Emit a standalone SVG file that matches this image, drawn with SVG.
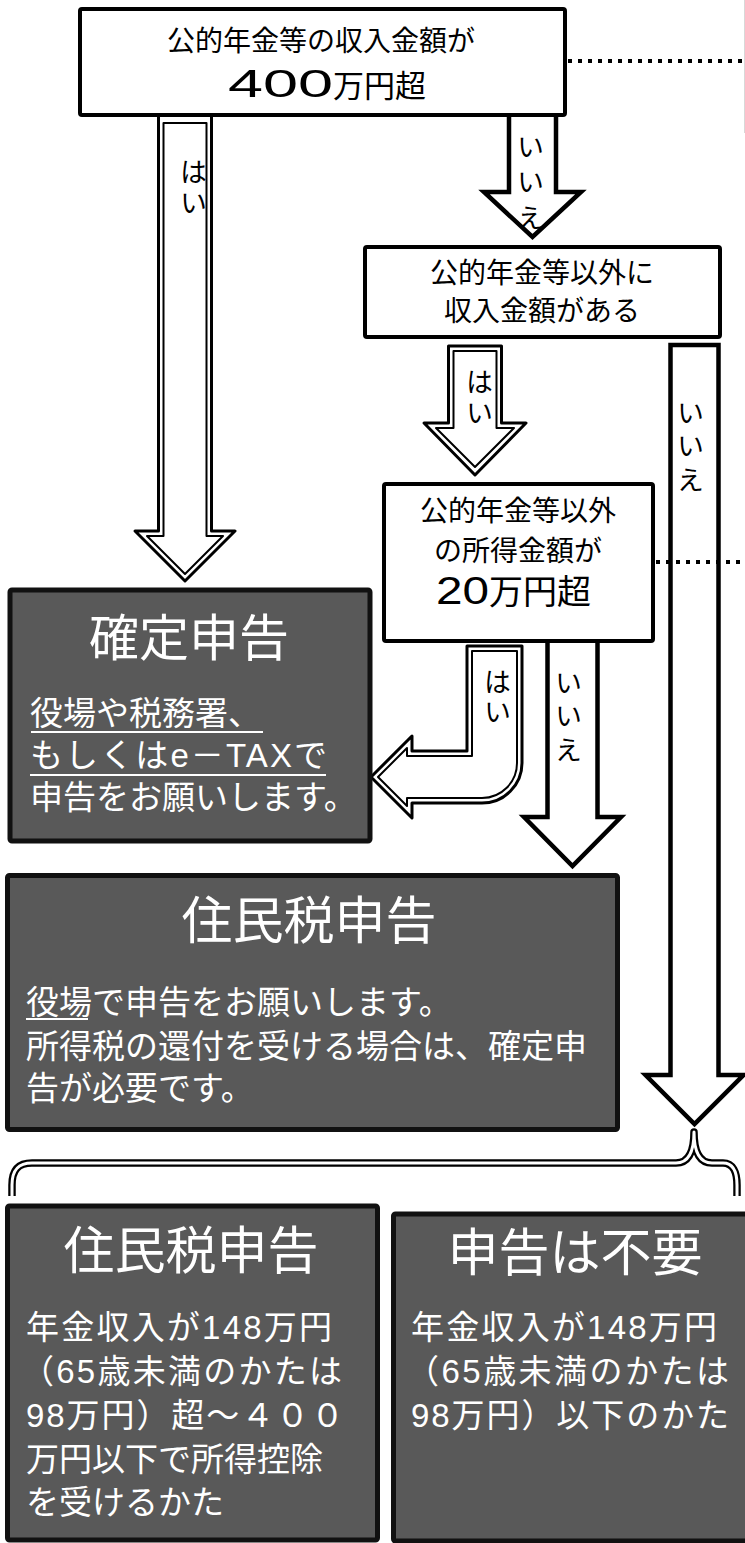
<svg xmlns="http://www.w3.org/2000/svg" width="745" height="1543" viewBox="0 0 745 1543">
<defs>
<style>
text{font-family:"Liberation Sans","Noto Sans CJK JP",sans-serif;}
.wbox{fill:#fff;stroke:#000;stroke-width:4;stroke-linejoin:round}
.dbox{fill:#595959;stroke:#111;stroke-width:5;stroke-linejoin:round}
.bt{fill:#000}
.wt{fill:#fff}
.mid{text-anchor:middle}
.arrow{fill:#fff;stroke:#000;stroke-width:4.5;stroke-linejoin:miter}
.dblo{fill:#fff;stroke:#000;stroke-width:3;stroke-linejoin:round}
.dbli{fill:none;stroke:#000;stroke-width:2;stroke-linejoin:round}
.dot{fill:none;stroke:#000;stroke-width:4;stroke-dasharray:4 6}
.ul{stroke:#fff;stroke-width:2}
.lbl{fill:#000;font-size:27px;writing-mode:vertical-rl;text-anchor:start}
</style>
</defs>
<rect x="0" y="0" width="745" height="1543" fill="#fff"/>
<line x1="744.5" y1="0" x2="744.5" y2="133" stroke="#d8d8d8" stroke-width="1"/>

<g id="connectors">
  <g id="c-yes1">
    <path class="dblo" d="M158.5,116 V531 H135 L185,581 L235,531 H211.5 V116"/>
    <path class="dbli" d="M163.5,123 V536 H147 L185,574 L223,536 H206.5 V123 Z"/>
    <text class="lbl" x="191" y="158" letter-spacing="4">はい</text>
  </g>
  <g id="c-no1">
    <path class="arrow" d="M509,115 V192 H484 L532.5,237 L581,192 H556 V115"/>
    <text class="lbl" x="528" y="133" letter-spacing="8.5">いいえ</text>
  </g>
  <g id="c-yes2">
    <path class="dblo" d="M448.5,346 V423 H424 L475,475 L526,423 H501.5 V346 Z"/>
    <path class="dbli" d="M453.5,351 V428 H436 L475,467 L514,428 H496.5 V351 Z"/>
    <text class="lbl" x="477" y="368" letter-spacing="4">はい</text>
  </g>
  <g id="c-no2">
    <path class="arrow" d="M670.5,345 V1075 H645.5 L694.5,1124 L743.5,1075 H718.5 V345 Z"/>
    <text class="lbl" x="688" y="399" letter-spacing="6.5">いいえ</text>
  </g>
  <g id="c-yes3">
    <path class="dblo" d="M467,646 V751 H412 V736 L371,777 L412,818 V803 H482 A40,40 0 0 0 522,763 V646 Z"/>
    <path class="dbli" d="M472,651 V756 H407 V748 L378,777 L407,806 V798 H482 A35,35 0 0 0 517,763 V651 Z"/>
    <text class="lbl" x="495" y="668" letter-spacing="3">はい</text>
  </g>
  <g id="c-no3">
    <path class="arrow" d="M547.5,641 V817 H524 L572.5,866 L621,817 H597.5 V641"/>
    <text class="lbl" x="566" y="669" letter-spacing="6.5">いいえ</text>
  </g>
  <line class="dot" x1="568" y1="61" x2="745" y2="61"/>
  <line class="dot" x1="656" y1="562" x2="745" y2="562"/>
  <g id="c-brace" fill="none" stroke-linejoin="round">
    <path d="M12,1196 V1185 C12,1170 18,1163 32,1163 H676 C688,1163 694,1152 694,1132 C694,1152 700,1163 712,1163 H723 C733,1163 737,1172 737,1185 V1196" stroke="#000" stroke-width="7.5"/>
    <path d="M12,1197 V1185 C12,1170 18,1163 32,1163 H676 C688,1163 694,1152 694,1132 C694,1152 700,1163 712,1163 H723 C733,1163 737,1172 737,1185 V1197" stroke="#fff" stroke-width="3"/>
  </g>
</g>

<g id="n-q1">
  <rect class="wbox" x="80" y="9" width="485" height="106" rx="2"/>
  <text class="bt"><tspan x="321" y="51" font-size="28" text-anchor="middle">公的年金等の収入金額が</tspan><tspan x="228" y="97" font-size="38" textLength="105" lengthAdjust="spacingAndGlyphs">400</tspan><tspan font-size="31">万円超</tspan></text>
</g>

<g id="n-q2">
  <rect class="wbox" x="365" y="247" width="355" height="90" rx="2"/>
  <text class="bt mid" font-size="28"><tspan x="542" y="283">公的年金等以外に</tspan><tspan x="542" y="321">収入金額がある</tspan></text>
</g>

<g id="n-q3">
  <rect class="wbox" x="384" y="484" width="269" height="157" rx="2"/>
  <text class="bt" font-size="28"><tspan x="518" y="521" text-anchor="middle">公的年金等以外</tspan><tspan x="518" y="561" text-anchor="middle">の所得金額が</tspan><tspan x="436" y="604" font-size="38" textLength="53" lengthAdjust="spacingAndGlyphs">20</tspan><tspan font-size="34">万円超</tspan></text>
</g>

<g id="n-kakutei">
  <rect class="dbox" x="10" y="590" width="360" height="251" rx="2"/>
  <text class="wt mid" x="189" y="656" font-size="50">確定申告</text>
  <text class="wt" font-size="33"><tspan x="30" y="725">役場や税務署、</tspan><tspan x="30" y="767" textLength="297" lengthAdjust="spacing">もしくはe－TAXで</tspan><tspan x="30" y="809">申告をお願いします。</tspan></text>
  <line class="ul" x1="31" y1="732" x2="263" y2="732"/>
  <line class="ul" x1="30" y1="775" x2="326" y2="775"/>
</g>

<g id="n-juminzei">
  <rect class="dbox" x="7.5" y="875.5" width="610" height="254" rx="2"/>
  <text class="wt mid" x="309" y="939" font-size="51">住民税申告</text>
  <text class="wt" font-size="33"><tspan x="26" y="1014">役場で申告をお願いします。</tspan><tspan x="26" y="1058">所得税の還付を受ける場合は、確定申</tspan><tspan x="26" y="1100">告が必要です。</tspan></text>
  <line class="ul" x1="26" y1="1019" x2="88" y2="1019"/>
</g>

<g id="n-juminzei2">
  <rect class="dbox" x="7.5" y="1206" width="370" height="334" rx="2"/>
  <text class="wt mid" x="191" y="1269" font-size="51">住民税申告</text>
  <text class="wt" font-size="33"><tspan x="26" y="1339" textLength="306" lengthAdjust="spacing">年金収入が148万円</tspan><tspan x="21" y="1383" textLength="321" lengthAdjust="spacing">（65歳未満のかたは</tspan><tspan x="26" y="1427" textLength="318" lengthAdjust="spacing">98万円）超～４００</tspan><tspan x="26" y="1471">万円以下で所得控除</tspan><tspan x="26" y="1514">を受けるかた</tspan></text>
</g>

<g id="n-fuyou">
  <rect class="dbox" x="393.5" y="1214" width="370" height="327" rx="2"/>
  <text class="wt mid" x="575" y="1271" font-size="51">申告は不要</text>
  <text class="wt" font-size="33"><tspan x="411" y="1339" textLength="306" lengthAdjust="spacing">年金収入が148万円</tspan><tspan x="406" y="1383" textLength="323" lengthAdjust="spacing">（65歳未満のかたは</tspan><tspan x="411" y="1427" textLength="318" lengthAdjust="spacing">98万円）以下のかた</tspan></text>
</g>
</svg>
